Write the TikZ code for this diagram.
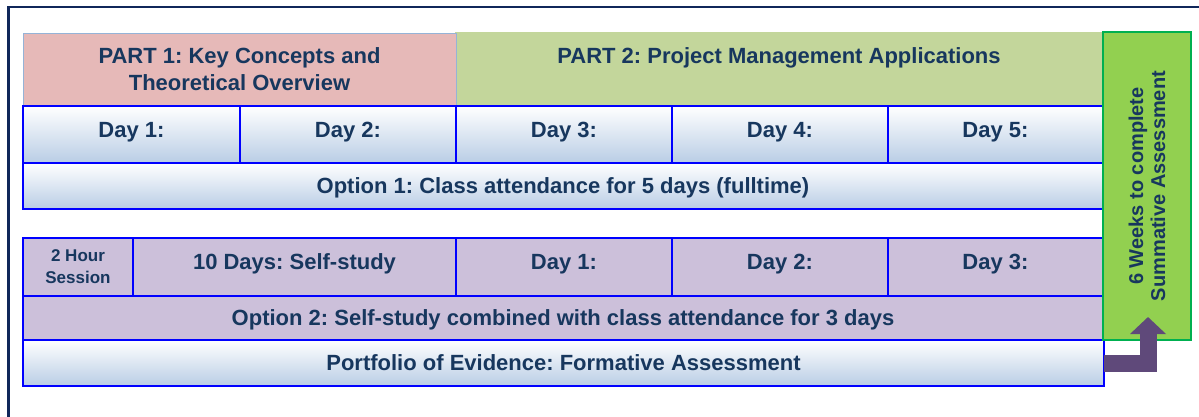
\documentclass[tikz,border=0pt]{standalone}
\usepackage{fontspec}
\setmainfont{Liberation Sans}
\frenchspacing
\usetikzlibrary{arrows.meta,positioning}

\definecolor{txtnavy}{HTML}{17375E}
\definecolor{framenavy}{HTML}{10275A}
\definecolor{partpink}{HTML}{E6B9B8}
\definecolor{partedge}{HTML}{95B3D7}
\definecolor{partgreen}{HTML}{C3D69B}
\definecolor{weekgreen}{HTML}{92D050}
\definecolor{weekedge}{HTML}{00B050}
\definecolor{lavender}{HTML}{CCC0DA}
\definecolor{dayblue}{HTML}{B9CDE5}
\definecolor{cellblue}{HTML}{0000FF}
\definecolor{arrowpurple}{HTML}{5F497A}

\begin{document}
\begin{tikzpicture}[x=1pt,y=-1pt]
            \tikzstyle{cell}=[rectangle,anchor=north west,inner sep=0pt,outer sep=0pt,align=center,text=txtnavy,font=\fontsize{22}{27}\selectfont\bfseries]
            \tikzstyle{part}=[cell]
            \tikzstyle{grad}=[top color=white,bottom color=dayblue]
            \tikzstyle{day}=[cell,draw=cellblue,line width=1.5pt,minimum height=57pt,text height=16pt,text depth=10.6pt]   % raised text
            \tikzstyle{bar}=[cell,draw=cellblue,line width=1.5pt,minimum width=1080pt,text height=15.8pt,text depth=0pt] % centred text
            \tikzstyle{flow}=[draw=arrowpurple,line width=17pt,-{Triangle[width=35pt,length=17pt]}]

            \useasboundingbox (0,0) rectangle (1199,416);
            \draw[framenavy,line width=2.7pt] (8.7,7) rectangle (1240,450);

            % the two parts
            \node[part,fill=partgreen,minimum width=648pt,minimum height=74pt] (p2) at (455,32) {PART 2: Project Management Applications\\\mbox{}};
            \node[part,fill=partpink,draw=partedge,line width=1pt,minimum width=433pt,minimum height=73pt] (p1) at (23,33) {PART 1: Key Concepts and\\Theoretical Overview};

            % option 1: five days in class
            \node[day,grad,minimum width=217pt] (d1) at (23,106) {Day 1:};
            \node[day,grad,minimum width=216pt] (d2) at (240,106) {Day 2:};
            \node[day,grad,minimum width=216pt] (d3) at (456,106) {Day 3:};
            \node[day,grad,minimum width=216pt] (d4) at (672,106) {Day 4:};
            \node[day,grad,minimum width=215pt] (d5) at (888,106) {Day 5:};
            \node[bar,grad,minimum height=46pt] (opt1) at (23,163) {Option 1: Class attendance for 5 days (fulltime)};

            % option 2: self-study and three days
            \node[day,fill=lavender,minimum width=110pt,minimum height=58pt,text height=,text depth=,font=\fontsize{17}{22}\selectfont\bfseries] (sess) at (23,238) {2 Hour\\Session};
            \node[day,fill=lavender,minimum width=323pt,minimum height=58pt] (self) at (133,238) {10 Days: Self-study};
            \node[day,fill=lavender,minimum width=216pt,minimum height=58pt] (e1) at (456,238) {Day 1:};
            \node[day,fill=lavender,minimum width=216pt,minimum height=58pt] (e2) at (672,238) {Day 2:};
            \node[day,fill=lavender,minimum width=215pt,minimum height=58pt] (e3) at (888,238) {Day 3:};
            \node[bar,fill=lavender,minimum height=44pt] (opt2) at (23,296) {Option 2: Self-study combined with class attendance for 3 days};
            \node[bar,grad,minimum width=1081pt,minimum height=46pt] (pof) at (23,340) {Portfolio of Evidence: Formative Assessment};

            % summative column
            \node[cell,anchor=center,rotate=90,fill=weekgreen,draw=weekedge,line width=1.5pt,minimum width=308pt,minimum height=88pt,font=\fontsize{20}{22}\selectfont\bfseries] (weeks) at (1147,186) {6 Weeks to complete\\Summative Assessment};

            \coordinate (tip) at (1148,317);
            \draw[flow] (pof.east) -| (tip);
\end{tikzpicture}
\end{document}
